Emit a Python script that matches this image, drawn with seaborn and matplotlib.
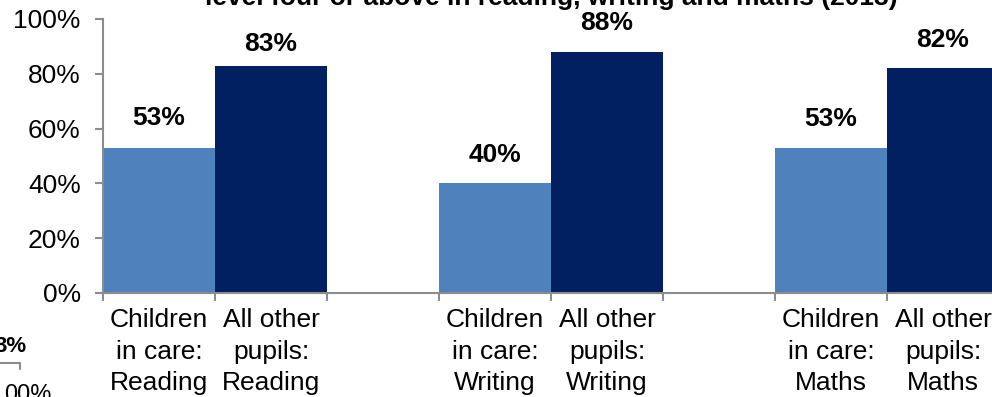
import pandas as pd
import matplotlib
matplotlib.use('Agg')
import matplotlib.pyplot as plt
import seaborn as sns
from matplotlib.ticker import FuncFormatter

sns.set_theme(style="white")
plt.rcParams['font.family'] = ['Liberation Sans', 'DejaVu Sans']
plt.rcParams['text.color'] = 'black'
plt.rcParams['xtick.color'] = 'black'
plt.rcParams['ytick.color'] = 'black'

# Data (percent at level four or above, 2013)
subjects = ['Reading', 'Writing', 'Maths']
children_in_care = [53, 40, 53]
all_other_pupils = [83, 88, 82]
groups = ['Children in care', 'All other pupils']
colors = ['#4F81BD', '#002060']
title = 'level four or above in reading, writing and maths (2013)'

rows = []
order = []
for i, subj in enumerate(subjects):
    c_lab = 'Children\nin care:\n' + subj
    a_lab = 'All other\npupils:\n' + subj
    rows.append({'label': c_lab, 'group': groups[0], 'value': children_in_care[i]})
    rows.append({'label': a_lab, 'group': groups[1], 'value': all_other_pupils[i]})
    order += [c_lab, a_lab]
    if i < len(subjects) - 1:
        order.append(' ' * (i + 1))  # empty spacer category
df = pd.DataFrame(rows)

fig = plt.figure(figsize=(9.92, 3.97), dpi=100)
ax = fig.add_axes([103 / 992, (397 - 293) / 397, 896 / 992, 274 / 397])

sns.barplot(data=df, x='label', y='value', hue='group', order=order,
            hue_order=groups, palette=colors, dodge=False, width=1,
            legend=False, ax=ax, saturation=1, linewidth=0)

# label offsets (points) as placed in the original
pads = {groups[0]: [13, 12, 12], groups[1]: [7, 12, 12]}
for cont, g in zip(ax.containers, groups):
    labels = ax.bar_label(cont, fmt='%d%%', fontsize=19, fontweight='bold',
                          color='black')
    for lab, p in zip(labels, pads[g]):
        lab.xyann = (0, p)

ax.set_ylim(0, 100)
ax.set_xlim(-0.5, len(order) - 0.5)
ax.set_yticks(range(0, 101, 20))
ax.yaxis.set_major_formatter(FuncFormatter(lambda v, p: f'{v:.0f}%'))
ax.set_xticks(range(len(order)))
ax.set_xticklabels([o if o.strip() else '' for o in order], linespacing=1.4)
ax.set_xticks([x - 0.5 for x in range(len(order) + 1)], minor=True)

ax.tick_params(axis='x', which='major', length=0, pad=11, labelsize=19)
ax.tick_params(axis='x', which='minor', bottom=True, length=6, width=1.5,
               color='#8C8C8C', direction='out')
ax.tick_params(axis='y', left=True, length=6, width=1.5, color='#8C8C8C',
               pad=10, labelsize=19, direction='out')
ax.set_xlabel('')
ax.set_ylabel('')
ax.grid(False)
for s in ['top', 'right']:
    ax.spines[s].set_visible(False)
for s in ['left', 'bottom']:
    ax.spines[s].set_color('#8C8C8C')
    ax.spines[s].set_linewidth(1.5)

# title, cut off at top of the picture
fig.text(551 / 992, 1 - 5 / 397, title, ha='center', va='baseline',
         fontsize=19, fontweight='bold')

# fragments of a neighbouring chart in the bottom-left corner
fig.text(27 / 992, 1 - 352 / 397, '3%', ha='right', va='baseline',
         fontsize=16, fontweight='bold')
fig.text(4 / 992, 1 - 401 / 397, '00%', ha='left', va='baseline', fontsize=17)
fig.add_artist(plt.Line2D([0, 20 / 992, 20 / 992],
                          [1 - 363 / 397, 1 - 363 / 397, 1 - 369 / 397],
                          color='#8C8C8C', lw=1.5))

fig.savefig('out.png', dpi=100)
